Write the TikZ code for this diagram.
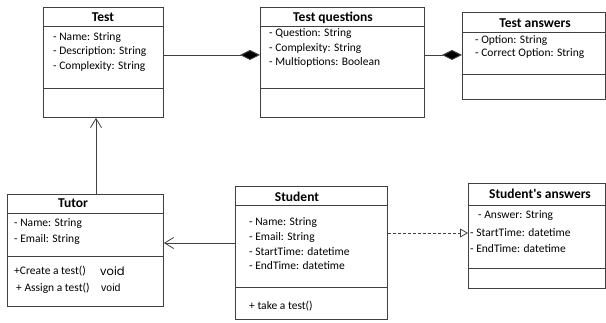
\documentclass[tikz,border=0pt]{standalone}
\usepackage{fontspec}
\setmainfont{Carlito}
\newfontfamily\voidfont{Poppins}
\newfontfamily\arialfont{Liberation Sans}
\usetikzlibrary{arrows.meta, calc}
\definecolor{UmlLine}{RGB}{64, 64, 64}

\begin{document}
\begin{tikzpicture}[x=1pt, y=-1pt,
        classbox/.style={rectangle, draw=UmlLine, line width=0.9pt, anchor=north west, inner sep=0pt},
        divider/.style={draw=UmlLine, line width=0.9pt},
        title/.style={inner sep=0pt, font=\fontsize{13.5}{16}\selectfont\bfseries},
        attr/.style={anchor=west, inner sep=0pt, font=\fontsize{11.5}{14}\selectfont},
        comp/.style={draw=UmlLine, line width=0.9pt, -{Diamond[length=20pt, width=10pt, fill=black]}},
        assoc/.style={draw=UmlLine, line width=0.8pt, -{Straight Barb[length=9pt, width=11pt]}},
        dep/.style={draw=UmlLine, line width=0.8pt, dash pattern=on 3pt off 2pt, -{Triangle[open, length=8pt, width=9pt]}}
    ]
        \useasboundingbox (0,0) rectangle (606,323);

        % classes
        \node[classbox, minimum width=120pt, minimum height=110pt] (test) at (43,7) {};
        \node[classbox, minimum width=164pt, minimum height=110pt] (tq) at (260,7) {};
        \node[classbox, minimum width=143pt, minimum height=87pt] (ta) at (462,12) {};
        \node[classbox, minimum width=156pt, minimum height=112pt] (tutor) at (7,194) {};
        \node[classbox, minimum width=152pt, minimum height=133pt] (student) at (235,186) {};
        \node[classbox, minimum width=137pt, minimum height=105pt] (sa) at (468,183) {};

        \draw[divider] ($(test.north west)+(0,19)$) -- ($(test.north east)+(0,19)$);
        \draw[divider] ($(test.north west)+(0,81)$) -- ($(test.north east)+(0,81)$);
        \draw[divider] ($(tq.north west)+(0,19)$) -- ($(tq.north east)+(0,19)$);
        \draw[divider] ($(tq.north west)+(0,81)$) -- ($(tq.north east)+(0,81)$);
        \draw[divider] ($(ta.north west)+(0,20)$) -- ($(ta.north east)+(0,20)$);
        \draw[divider] ($(ta.north west)+(0,62)$) -- ($(ta.north east)+(0,62)$);
        \draw[divider] ($(tutor.north west)+(0,19)$) -- ($(tutor.north east)+(0,19)$);
        \draw[divider] ($(tutor.north west)+(0,62)$) -- ($(tutor.north east)+(0,62)$);
        \draw[divider] ($(student.north west)+(0,19)$) -- ($(student.north east)+(0,19)$);
        \draw[divider] ($(student.north west)+(0,101)$) -- ($(student.north east)+(0,101)$);
        \draw[divider] ($(sa.north west)+(0,22)$) -- ($(sa.north east)+(0,22)$);
        \draw[divider] ($(sa.north west)+(0,85)$) -- ($(sa.north east)+(0,85)$);

        % Test
        \node[title] (test-title) at (103,17) {Test};
        \node[attr] (test-name) at (53,38) {- Name: String};
        \node[attr] (test-desc) at (53,52) {- Description: String};
        \node[attr] (test-cplx) at (53,66) {- Complexity: String};

        % Test questions
        \node[title] (tq-title) at (333,18) {Test questions};
        \node[attr] (tq-quest) at (269,34) {- Question: String};
        \node[attr] (tq-cplx) at (269,48) {- Complexity: String};
        \node[attr] (tq-multi) at (269,62) {- Multioptions: Boolean};

        % Test answers
        \node[title] (ta-title) at (535,23) {Test answers};
        \node[attr] (ta-opt) at (475,41) {- Option: String};
        \node[attr] (ta-corr) at (475,54) {- Correct Option: String};

        % Tutor
        \node[title] (tutor-title) at (73,203) {Tutor};
        \node[attr] (tutor-name) at (14,224) {- Name: String};
        \node[attr] (tutor-mail) at (14,239) {- Email: String};
        \node[attr] (tutor-create) at (14,271) {+Create a test()};
        \node[anchor=west, inner sep=0pt, font=\voidfont\fontsize{11.5}{14}\selectfont] (tutor-void1) at (100,271) {void};
        \node[attr] (tutor-assign) at (16,288) {+ Assign a test()};
        \node[anchor=west, inner sep=0pt, font=\arialfont\fontsize{10.5}{12}\selectfont] (tutor-void2) at (101,288) {void};

        % Student
        \node[title] (student-title) at (297,197) {Student};
        \node[attr] (student-name) at (249,223) {- Name: String};
        \node[attr] (student-mail) at (249,237) {- Email: String};
        \node[attr] (student-start) at (249,252) {- StartTime: datetime};
        \node[attr] (student-end) at (249,266) {- EndTime: datetime};
        \node[attr] (student-take) at (249,306) {+ take a test()};

        % Student's answers
        \node[title] (sa-title) at (540,194) {Student\textquotesingle s answers};
        \node[attr] (sa-answer) at (478,216) {- Answer: String};
        \node[attr] (sa-start) at (470,233) {- StartTime: datetime};
        \node[attr] (sa-end) at (470,249) {- EndTime: datetime};

        % relations
        \coordinate (row-top) at (0,55);
        \coordinate (col-tutor) at (96,0);
        \coordinate (row-tutor) at (0,243);
        \coordinate (row-sa) at (0,233);

        \draw[comp] (test.east |- row-top) -- (tq.west |- row-top);
        \draw[comp] (tq.east |- row-top) -- (ta.west |- row-top);
        \draw[assoc] (tutor.north -| col-tutor) -- (test.south -| col-tutor);
        \draw[assoc] (student.west |- row-tutor) -- (tutor.east |- row-tutor);
        \draw[dep] (student.east |- row-sa) -- (sa.west |- row-sa);

    \end{tikzpicture}
\end{document}
